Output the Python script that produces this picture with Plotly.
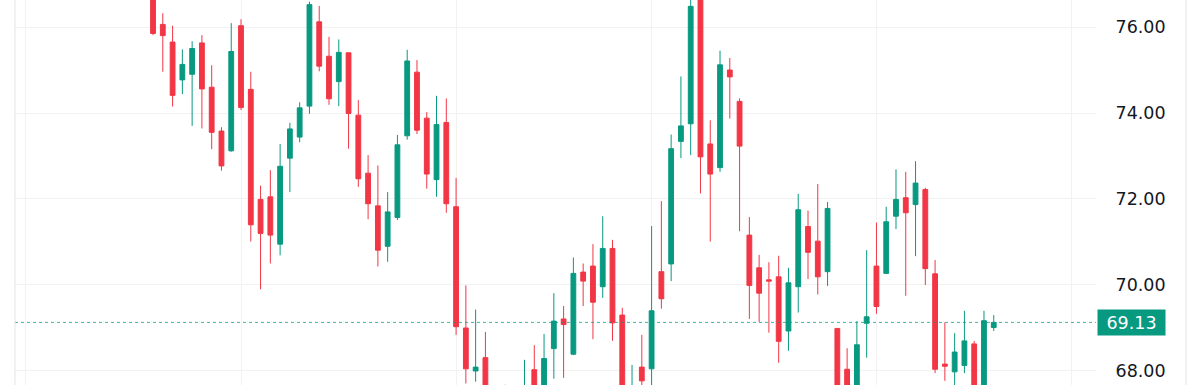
import plotly.graph_objects as go

# ---- data ----
idx = list(range(87))
opens = [77.20, 76.06, 75.65, 74.77, 74.90, 75.63, 74.60, 73.58, 73.12, 76.03,
         74.55, 71.99, 72.05, 70.95, 72.95, 73.44, 74.16, 76.12, 75.32, 74.73,
         75.40, 73.95, 72.60, 71.84, 70.90, 71.57, 73.47, 74.95, 73.88, 72.45,
         73.78, 71.82, 69.00, 68.00, 68.31, 67.35, 67.10, 67.40, 66.95, 68.03,
         67.30, 68.52, 69.21, 68.39, 70.30, 70.44, 69.96, 70.85, 69.30, 67.00,
         68.09, 68.05, 70.31, 70.49, 73.34, 73.75, 76.90, 73.28, 72.73, 75.00,
         74.27, 71.16, 70.40, 70.12, 70.19, 68.93, 69.96, 71.36, 71.02, 70.31,
         68.99, 68.04, 67.50, 69.11, 70.44, 70.27, 71.60, 72.03, 71.87, 72.22,
         70.26, 68.16, 67.98, 68.13, 68.63, 67.40, 69.01]
highs = [77.40, 76.32, 76.03, 75.48, 75.67, 75.81, 75.11, 73.67, 76.09, 76.18,
         74.96, 72.31, 72.67, 73.28, 73.77, 74.25, 76.59, 76.49, 75.77, 75.71,
         75.40, 74.30, 73.02, 72.78, 72.16, 73.49, 75.47, 75.23, 74.02, 74.40,
         74.34, 72.49, 69.99, 69.43, 68.91, 67.55, 67.68, 67.55, 68.26, 68.60,
         68.86, 69.81, 69.51, 70.64, 70.50, 70.95, 71.60, 71.05, 69.47, 68.14,
         68.84, 71.37, 71.95, 73.50, 74.85, 76.75, 77.10, 73.83, 75.45, 75.28,
         74.34, 71.58, 70.70, 70.53, 70.68, 70.40, 72.12, 71.73, 72.35, 71.93,
         68.99, 68.53, 69.16, 70.81, 71.45, 71.82, 72.69, 72.63, 72.88, 72.26,
         70.58, 69.13, 68.88, 69.40, 68.70, 69.40, 69.30]
lows = [75.81, 74.96, 74.15, 74.44, 73.70, 73.64, 73.16, 72.66, 73.10, 74.07,
        71.01, 69.90, 70.50, 70.69, 72.16, 73.32, 73.98, 74.97, 74.19, 74.16,
        73.17, 72.28, 71.53, 70.43, 70.54, 71.51, 73.38, 73.51, 72.24, 72.05,
        71.68, 68.84, 67.71, 67.75, 67.10, 66.90, 66.95, 66.80, 66.80, 67.00,
        67.15, 67.82, 67.84, 68.37, 69.51, 68.74, 69.70, 68.70, 67.00, 66.80,
        67.50, 67.40, 69.45, 70.09, 72.95, 73.02, 72.13, 71.01, 72.63, 73.87,
        71.25, 69.21, 69.14, 68.89, 68.19, 68.47, 69.36, 70.14, 69.78, 69.98,
        67.00, 67.20, 67.30, 68.31, 69.33, 70.26, 71.30, 69.75, 70.67, 70.00,
        67.95, 67.77, 67.50, 67.95, 67.10, 67.30, 68.93]
closes = [75.85, 75.80, 74.41, 75.13, 75.50, 74.56, 73.55, 72.77, 75.43, 74.13,
          71.40, 71.20, 71.16, 72.76, 73.63, 74.12, 76.52, 75.09, 74.33, 75.41,
          73.99, 72.47, 71.89, 70.81, 71.70, 73.26, 75.21, 73.60, 72.58, 73.73,
          71.89, 69.03, 68.05, 68.09, 67.30, 67.05, 67.45, 67.00, 67.50, 67.25,
          68.29, 69.16, 69.08, 70.27, 70.09, 69.60, 70.85, 69.12, 67.20, 67.50,
          67.77, 69.40, 69.68, 73.17, 73.70, 76.48, 72.98, 72.58, 75.12, 74.84,
          73.23, 69.99, 69.81, 70.09, 68.69, 70.05, 71.75, 70.76, 70.19, 71.78,
          67.20, 67.40, 68.61, 69.26, 69.50, 71.47, 71.99, 71.68, 72.37, 70.38,
          68.04, 68.11, 68.44, 68.70, 67.30, 69.17, 69.13]

month_starts = [-13, 9, 31, 51, 74, 94]
y_ticks = [68, 70, 72, 74, 76]
y_tick_text = ["68.00", "70.00", "72.00", "74.00", "76.00"]
last_price = 69.13
last_label = "69.13"

GREEN = "#089981"
RED = "#F23645"
GRID = "#f2f2f2"
BORDER = "#e3e3e3"
TEXT = "#131722"
FONT = "DejaVu Sans"

fig = go.Figure(go.Candlestick(
    x=idx, open=opens, high=highs, low=lows, close=closes,
    increasing=dict(line=dict(color=GREEN, width=1), fillcolor=GREEN),
    decreasing=dict(line=dict(color=RED, width=1), fillcolor=RED),
    whiskerwidth=0, hoverinfo="skip", showlegend=False,
))

fig.update_layout(
    width=1200, height=385,
    margin=dict(l=15, r=104, t=0, b=0),
    paper_bgcolor="white", plot_bgcolor="white",
    boxgap=0.3,
    xaxis=dict(range=[-14.12, 96.46], rangeslider=dict(visible=False),
               tickvals=month_starts, showticklabels=False, showgrid=True,
               gridcolor=GRID, gridwidth=1, zeroline=False, showline=False, ticks=""),
    yaxis=dict(range=[67.674, 76.628], side="right", tickvals=y_ticks,
               ticktext=y_tick_text, showgrid=True, gridcolor=GRID, gridwidth=1,
               zeroline=False, showline=False,
               ticks="outside", ticklen=10, tickcolor="rgba(0,0,0,0)",
               ticklabelstandoff=5,
               tickfont=dict(family=FONT, size=17.5, color=TEXT)),
    shapes=[
        dict(type="line", xref="paper", yref="y", x0=0, x1=1,
             y0=last_price, y1=last_price,
             line=dict(color="rgba(8,153,129,0.75)", width=1, dash="dot")),
        dict(type="line", xref="paper", yref="paper", x0=0, x1=0, y0=0, y1=1,
             line=dict(color=BORDER, width=1)),
        dict(type="line", xref="paper", yref="paper", x0=1.08326, x1=1.08326,
             y0=0, y1=1, line=dict(color=BORDER, width=1)),
    ],
    annotations=[
        dict(xref="paper", yref="y", x=1.00093, y=last_price, xanchor="left",
             yanchor="middle", text=last_label, showarrow=False,
             bgcolor=GREEN, width=63, height=21, borderpad=2, align="center",
             font=dict(family=FONT, size=17.5, color="white")),
    ],
)

fig.write_html("out.html", config={"displayModeBar": False},
               post_script="document.body.style.margin='0';")
